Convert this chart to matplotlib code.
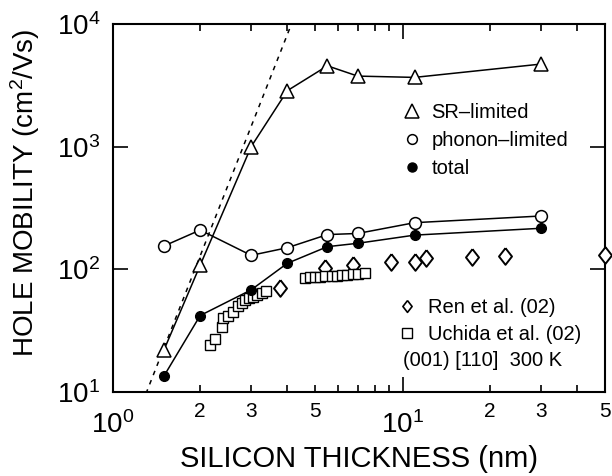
import math
import matplotlib
matplotlib.use("Agg")
import matplotlib.pyplot as plt
from matplotlib.lines import Line2D
from matplotlib.ticker import LogLocator, FuncFormatter, NullLocator, FixedLocator

# --- STYLE SETTINGS ---
plt.rcParams["font.family"] = ["Liberation Sans", "DejaVu Sans"]
plt.rcParams["mathtext.fontset"] = "custom"
plt.rcParams["mathtext.rm"] = "Liberation Sans"
plt.rcParams["mathtext.it"] = "Liberation Sans:italic"
plt.rcParams["mathtext.default"] = "regular"

# --- DATA ---
# calculated mobilities vs silicon thickness (nm)
t_calc = [1.5, 2.0, 3.0, 4.0, 5.5, 7.0, 11.0, 30.0]
mu_sr = [22, 108, 1000, 2860, 4560, 3760, 3670, 4710]
mu_phonon = [155, 209, 130, 150, 192, 196, 240, 272]
mu_total = [13.5, 42, 68, 112, 153, 163, 190, 216]

# t^6 reference line
t_ref = [1.3, 4.2]
mu_ref = [9.7, 11000]

# Ren et al. (02)
t_ren = [3.77, 5.4, 6.76, 9.1, 11.0, 12.0, 17.4, 22.5, 50.0]
mu_ren = [71, 102, 108, 115, 114, 123, 125, 128, 132]

# Uchida et al. (02)
t_uchida = [2.16, 2.25, 2.37, 2.40, 2.50, 2.60, 2.70, 2.78, 2.86, 2.95, 3.05, 3.15, 3.26, 3.38,
            4.60, 4.79, 4.98, 5.19, 5.40, 5.69, 5.92, 6.16, 6.41, 6.76, 7.03, 7.42]
mu_uchida = [24, 27, 34, 40, 42, 45, 50, 53, 56, 58, 60, 62, 64, 66,
             85, 86, 86, 87, 88, 88, 89, 90, 90, 91, 92, 93]

DIAMOND = [(0, 1), (0.78, 0), (0, -1), (-0.78, 0), (0, 1)]

fig = plt.figure(figsize=(6.12, 4.76), dpi=100)
ax = fig.add_axes([0.1846, 0.1765, 0.804, 0.7731])

lw = 1.1
ax.plot(t_ref, mu_ref, color="black", lw=1.1, linestyle=(0, (3, 3.5)), zorder=2)
ax.plot(t_calc, mu_sr, color="black", lw=lw, marker="^", ms=10.5,
        mfc="white", mec="black", mew=1.1, zorder=4)
ax.plot(t_calc, mu_phonon, color="black", lw=lw, marker="o", ms=8.5,
        mfc="white", mec="black", mew=1.1, zorder=4)
ax.plot(t_calc, mu_total, color="black", lw=lw, marker="o", ms=7,
        mfc="black", mec="black", zorder=5)
ax.plot(t_ren, mu_ren, ls="none", marker=DIAMOND, ms=12, mfc="white",
        mec="black", mew=1.4, zorder=3, clip_on=False)
ax.plot(t_uchida, mu_uchida, ls="none", marker="s", ms=7.8, mfc="white",
        mec="black", mew=1.0, zorder=3)

ax.set_xscale("log")
ax.set_yscale("log")
ax.set_xlim(1, 50)
ax.set_ylim(10, 1e4)


def pow_fmt(v, pos):
    return r"$10^{%d}$" % round(math.log10(v))


def minor_fmt(v, pos):
    lead = round(v / 10 ** math.floor(math.log10(v) + 1e-9))
    return str(lead) if lead in (2, 3, 5) else ""


# ticks
ax.xaxis.set_major_locator(FixedLocator([1, 10]))
ax.xaxis.set_minor_locator(LogLocator(base=10, subs=[2, 3, 4, 5, 6, 7, 8, 9]))
ax.xaxis.set_major_formatter(FuncFormatter(pow_fmt))
ax.xaxis.set_minor_formatter(FuncFormatter(minor_fmt))
ax.yaxis.set_major_locator(FixedLocator([10, 100, 1000, 10000]))
ax.yaxis.set_major_formatter(FuncFormatter(pow_fmt))
ax.yaxis.set_minor_locator(NullLocator())

ax.tick_params(which="both", direction="in", top=True, right=True, width=1.2)
ax.tick_params(which="major", length=11, labelsize=20)
ax.tick_params(which="minor", length=5, labelsize=15)
ax.tick_params(axis="x", which="minor", pad=7)
ax.tick_params(axis="x", which="major", pad=14)
ax.tick_params(axis="y", which="both", pad=9)

for s in ax.spines.values():
    s.set_linewidth(1.5)

ax.set_xlabel("SILICON THICKNESS (nm)", fontsize=21)
ax.set_ylabel(r"HOLE MOBILITY (cm$^2$/Vs)", fontsize=20)
ax.xaxis.set_label_coords(0.5, -0.145)
ax.yaxis.set_label_coords(-0.145, 0.54)

# legends
h1 = [Line2D([], [], ls="none", marker="^", ms=10, mfc="white", mec="black", mew=1.1),
      Line2D([], [], ls="none", marker="o", ms=7, mfc="white", mec="black", mew=1.1),
      Line2D([], [], ls="none", marker="o", ms=6.5, mfc="black", mec="black")]
leg1 = ax.legend(h1, ["SR–limited", "phonon–limited", "total"], loc="center left",
                 bbox_to_anchor=(0.588, 0.683), frameon=False, fontsize=14.5,
                 handlelength=1.0, handletextpad=0.45, labelspacing=0.45,
                 borderpad=0, borderaxespad=0)
ax.add_artist(leg1)

h2 = [Line2D([], [], ls="none", marker=DIAMOND, ms=8.5, mfc="white", mec="black", mew=1.2),
      Line2D([], [], ls="none", marker="s", ms=6.5, mfc="white", mec="black", mew=1.0)]
ax.legend(h2, ["Ren et al. (02)", "Uchida et al. (02)"], loc="center left",
          bbox_to_anchor=(0.577, 0.192), frameon=False, fontsize=14.5,
          handlelength=1.0, handletextpad=0.55, labelspacing=0.4,
          borderpad=0, borderaxespad=0)

ax.text(0.589, 0.085, "(001) [110]  300 K", transform=ax.transAxes,
        fontsize=14.5, ha="left", va="center")

fig.savefig("out.png", dpi=100)
